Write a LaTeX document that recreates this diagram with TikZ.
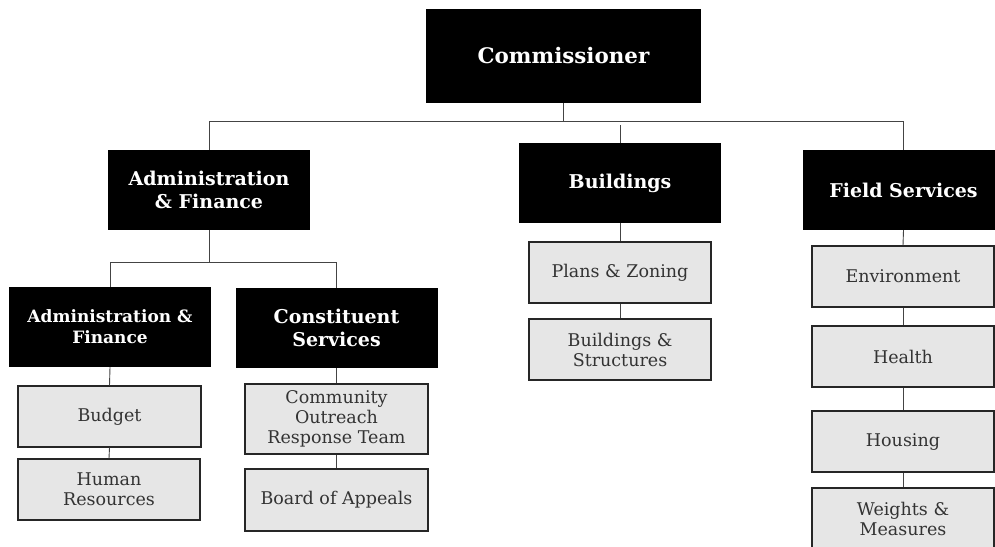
\documentclass[tikz,border=0pt]{standalone}
\usepackage{fontspec}
\setmainfont{DejaVu Serif}
\definecolor{boxgray}{HTML}{E6E6E6}
\definecolor{txtgray}{HTML}{333333}
\definecolor{linegray}{HTML}{444444}
\tikzset{
  head/.style={fill=black, draw=none, text=white, align=center, inner sep=0pt,
    font=\bfseries\fontsize{19}{23}\selectfont, minimum width=202pt, minimum height=80pt},
  unit/.style={fill=boxgray, draw=black!85, line width=1.2pt, text=txtgray, align=center, inner sep=0pt,
    font=\fontsize{17.5}{20}\selectfont, minimum width=182pt, minimum height=61pt},
  conn/.style={draw=linegray, line width=0.9pt}
}
\begin{document}
\begin{tikzpicture}[x=1pt, y=-1pt]
\useasboundingbox (0,0) rectangle (995,546);
% top
\node[head, minimum width=275pt, minimum height=94pt, font=\bfseries\fontsize{21.4}{25}\selectfont] (comm) at (563.5,56) {Commissioner};
\node[head] (admin) at (209,190) {Administration\\\& Finance};
\node[head] (bldg) at (620,183) {Buildings};
\node[head] (field) at (903.5,190) {Field Services};
% admin subtree
\node[head, font=\bfseries\fontsize{17}{21}\selectfont] (adminsub) at (110,327) {Administration \&\\Finance};
\node[head] (const) at (336.5,328) {Constituent\\Services};
\node[unit, minimum width=183pt] (budget) at (109.5,416.5) {Budget};
\node[unit] (hr) at (109,489.5) {Human\\Resources};
\node[unit, minimum width=183pt, minimum height=70pt] (cort) at (336.5,419) {Community\\Outreach\\Response Team};
\node[unit, minimum width=183pt, minimum height=62pt] (boa) at (336.5,500) {Board of Appeals};
% buildings subtree
\node[unit] (plans) at (620,272.5) {Plans \& Zoning};
\node[unit] (bas) at (620,349.5) {Buildings \&\\Structures};
% field subtree
\node[unit] (env) at (903,276.5) {Environment};
\node[unit] (health) at (903,356.5) {Health};
\node[unit] (housing) at (903,441.5) {Housing};
\node[unit] (wm) at (903,518.5) {Weights \&\\Measures};
% connectors
\draw[conn] (comm.south) -- ++(0,19);
\draw[conn] (admin.north) -- ++(0,-28) -| (field.north);
\draw[conn] (bldg.north) -- ++(0,-18);
\draw[conn] (admin.south) -- ++(0,33);
\draw[conn] (adminsub.north) -- ++(0,-24) -| (const.north);
\draw[conn] (adminsub.south) -- (budget.north);
\draw[conn] (budget.south) -- (hr.north);
\draw[conn] (const.south) -- (cort.north);
\draw[conn] (cort.south) -- (boa.north);
\draw[conn] (bldg.south) -- (plans.north);
\draw[conn] (plans.south) -- (bas.north);
\draw[conn] (field.south) -- (env.north);
\draw[conn] (env.south) -- (health.north);
\draw[conn] (health.south) -- (housing.north);
\draw[conn] (housing.south) -- (wm.north);
\end{tikzpicture}
\end{document}
